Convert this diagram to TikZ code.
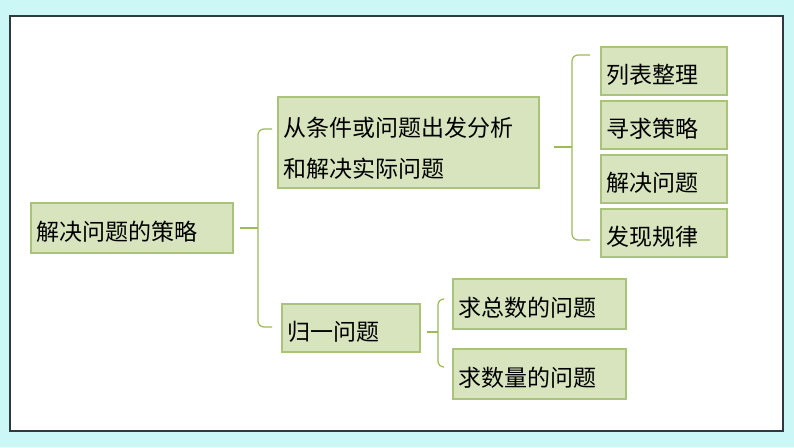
\documentclass[tikz,border=0pt]{standalone}
\usepackage{fontspec}
\newfontfamily\cjk{Noto Sans CJK SC}
\definecolor{bgcyan}{HTML}{CBF7F7}
\definecolor{boxfill}{HTML}{D7E4BD}
\definecolor{boxline}{HTML}{A9C47A}
\definecolor{linkgreen}{HTML}{9BBB59}
\definecolor{framegray}{HTML}{2E3A3E}
\tikzset{
  topic/.style={draw=boxline, fill=boxfill, line width=1.5pt, anchor=north west,
    inner xsep=6pt, inner ysep=0pt, align=left,
    text height=30pt, text depth=3.6pt,
    font=\fontsize{23pt}{41pt}\selectfont\cjk},
  brace/.style={draw=linkgreen, line width=1.2pt, rounded corners=6pt}
}
\begin{document}
\begin{tikzpicture}[x=1pt, y=-1pt]
  % page and frame
  \fill[bgcyan] (0,0) rectangle (794,447);
  \draw[framegray, fill=white, line width=1.2pt] (10,16) rectangle (783,431);

  % topics
  \node[topic, text width=190pt, minimum height=50pt] (root) at (30,202) {解决问题的策略};
  \node[topic, text width=249pt, minimum height=91pt, text height=20pt, text depth=31.6pt] (cond) at (277,96) {从条件或问题出发分析\\和解决实际问题};
  \node[topic, text width=126pt, minimum height=48pt] (unit) at (281,303) {归一问题};

  \node[topic, text width=114pt, minimum height=48pt] (list) at (600,46) {列表整理};
  \node[topic, text width=114pt, minimum height=48pt] (seek) at (600,100) {寻求策略};
  \node[topic, text width=114pt, minimum height=48pt] (solve) at (600,154) {解决问题};
  \node[topic, text width=114pt, minimum height=48pt] (rule) at (600,208) {发现规律};

  \node[topic, text width=161pt, minimum height=50pt] (total) at (452,278) {求总数的问题};
  \node[topic, text width=161pt, minimum height=50pt] (amount) at (452,348) {求数量的问题};

  % brackets
  \coordinate (j1) at (258,228);
  \coordinate (t1) at (272,129);
  \coordinate (b1) at (272,327);
  \coordinate (j2) at (572,147);
  \coordinate (t2) at (590,55);
  \coordinate (b2) at (590,240);
  \coordinate (j3) at (438,332);
  \coordinate (t3) at (443,299);
  \coordinate (b3) at (443,367);
  \begin{scope}[brace]
    \draw[shorten <=6pt] (root.east |- j1) -- (j1);
    \draw (t1) -| (j1) |- (b1);
    \draw[shorten <=14pt] (cond.east |- j2) -- (j2);
    \draw (t2) -| (j2) |- (b2);
    \draw[shorten <=6pt] (unit.east |- j3) -- (j3);
    \draw (t3) -| (j3) |- (b3);
  \end{scope}
\end{tikzpicture}
\end{document}
